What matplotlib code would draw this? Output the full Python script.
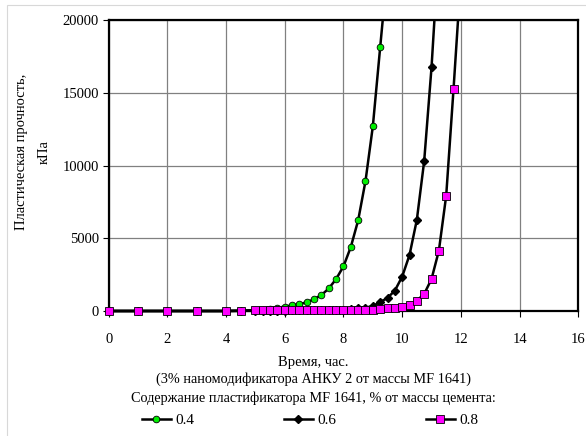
import matplotlib.pyplot as plt
from matplotlib.patches import Rectangle

plt.rcParams['font.family'] = ['Liberation Serif', 'DejaVu Serif']
plt.rcParams['font.size'] = 10

# time, hours
t_04 = [0, 1, 2, 3, 4, 4.5, 5, 5.25, 5.5, 5.75, 6, 6.25, 6.5, 6.75, 7, 7.25,
        7.5, 7.75, 8, 8.25, 8.5, 8.75, 9, 9.25, 9.5]
t_06 = [0, 1, 2, 3, 4, 4.5, 5, 5.25, 5.5, 5.75, 6, 6.25, 6.5, 6.75, 7, 7.25,
        7.5, 7.75, 8, 8.25, 8.5, 8.75, 9, 9.25, 9.5, 9.75, 10, 10.25, 10.5,
        10.75, 11, 11.25]
t_08 = [0, 1, 2, 3, 4, 4.5, 5, 5.25, 5.5, 5.75, 6, 6.25, 6.5, 6.75, 7, 7.25,
        7.5, 7.75, 8, 8.25, 8.5, 8.75, 9, 9.25, 9.5, 9.75, 10, 10.25, 10.5,
        10.75, 11, 11.25, 11.5, 11.75, 12]

# plastic strength, kPa
p_04 = [0, 0, 0, 0, 0, 10, 60, 100, 150, 220, 300, 390, 470, 600, 810, 1100,
        1550, 2200, 3070, 4400, 6230, 8930, 12690, 18120, 23500]
p_06 = [0, 0, 0, 0, 0, 10, 10, 15, 20, 25, 30, 35, 40, 45, 55, 60,
        70, 80, 100, 130, 180, 230, 340, 610, 900, 1400, 2360, 3850, 6270,
        10310, 16750, 25000]
p_08 = [0, 0, 0, 0, 0, 20, 40, 45, 50, 50, 55, 55, 60, 60, 60, 65,
        65, 70, 70, 75, 75, 80, 100, 120, 180, 190, 250, 390, 710,
        1170, 2200, 4140, 7930, 15260, 23000]

labels = ['0.4', '0.6', '0.8']
yticks = [0, 5000, 10000, 15000, 20000]
xticks = list(range(0, 17, 2))

fig = plt.figure(figsize=(5.86, 4.36), dpi=100)
fig.patches.append(Rectangle((0.012, -0.01), 1.0, 0.999, transform=fig.transFigure,
                             fill=False, edgecolor='#d8d8d8', linewidth=0.8))
ax = fig.add_axes([0.1855, 0.2867, 0.8013, 0.6674])

lines = []
lines += ax.plot(t_04, p_04, color='black', lw=1.8, marker='o', ms=4.8,
                 mfc='#00ee00', mec='black', mew=0.6, label=labels[0], zorder=7)
lines += ax.plot(t_06, p_06, color='black', lw=1.8, marker='D', ms=3.8,
                 mfc='black', mec='black', label=labels[1], zorder=8)
lines += ax.plot(t_08, p_08, color='black', lw=1.8, marker='s', ms=5.4,
                 mfc='#ff00ff', mec='black', mew=0.6, label=labels[2], zorder=9)

# cut curves at the top edge only, so markers on the zero line stay whole
clip = Rectangle((-0.03, -0.05), 1.06, 1.05, transform=ax.transAxes,
                 fill=False, visible=False)
ax.add_patch(clip)
for ln in lines:
    ln.set_clip_path(clip)

ax.set_xlim(0, 16)
ax.set_ylim(0, 20000)
ax.set_xticks(xticks)
ax.set_yticks(yticks)
ax.grid(True, color='#808080', lw=0.9)
ax.set_axisbelow(True)
for s in ax.spines.values():
    s.set_linewidth(1.6)
ax.tick_params(direction='out', length=4, width=0.8, labelsize=10.5)
ax.tick_params(axis='x', pad=12)
ax.tick_params(axis='y', pad=3)

fig.text(33 / 586, 1 - 152 / 436, 'Пластическая прочность,\nкПа', rotation=90,
         ha='center', va='center', multialignment='center', fontsize=10.5,
         linespacing=1.9)
fig.text(313 / 586, 1 - 362 / 436, 'Время, час.', ha='center', va='center', fontsize=10.5)
fig.text(313 / 586, 1 - 379 / 436, '(3% наномодификатора АНКУ 2 от массы MF 1641)',
         ha='center', va='center', fontsize=10.3)
fig.text(313 / 586, 1 - 398 / 436,
         'Содержание пластификатора MF 1641, % от массы цемента:',
         ha='center', va='center', fontsize=10.3)

fig.legend(loc='center', bbox_to_anchor=(0.529, 1 - 420 / 436), ncol=3,
           frameon=False, fontsize=11, handlelength=1.9, handletextpad=0.3,
           columnspacing=5.85, borderpad=0)

fig.savefig('out.png', dpi=100)
